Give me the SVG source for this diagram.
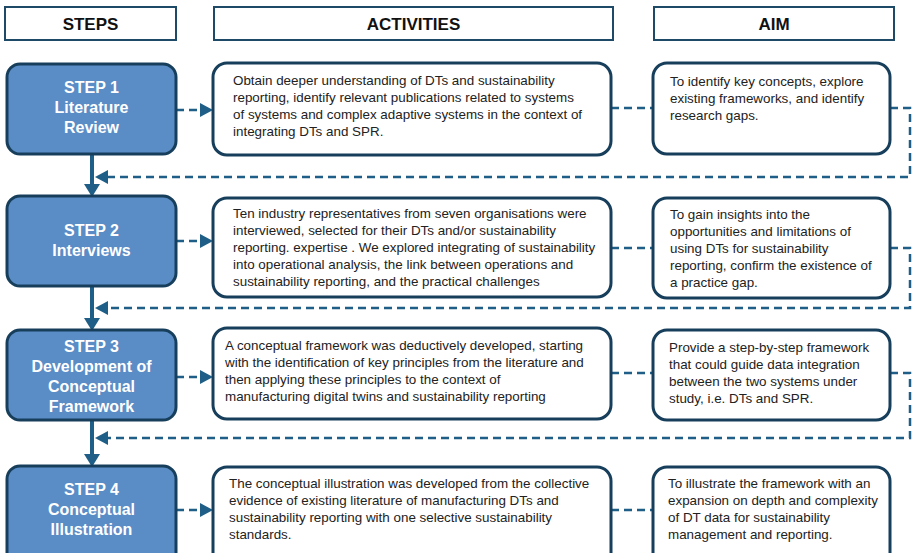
<svg xmlns="http://www.w3.org/2000/svg" width="912" height="553" viewBox="0 0 912 553">
<defs>
<style>
.hdr{fill:#fff;stroke:#1E4A68;stroke-width:2}
.htxt{font-family:"Liberation Sans",Arial,sans-serif;font-weight:bold;font-size:17px;fill:#111;text-anchor:middle}
.step{fill:#5A8CC6;stroke:#173F5C;stroke-width:3}
.stxt{font-family:"Liberation Sans",Arial,sans-serif;font-weight:bold;font-size:16px;fill:#fff;text-anchor:middle}
.box{fill:#fff;stroke:#173F5C;stroke-width:3}
.btxt{font-family:"Liberation Sans",Arial,sans-serif;font-size:13.4px;fill:#222}
.dash{fill:none;stroke:#1F5E86;stroke-width:2.5;stroke-dasharray:8 5}
.solid{fill:none;stroke:#1F5E86;stroke-width:4}
</style>
<marker id="ah" markerUnits="userSpaceOnUse" markerWidth="13" markerHeight="14" refX="0" refY="7" orient="auto"><path d="M0,0 L13,7 L0,14 z" fill="#1F5E86"/></marker>
<marker id="ahv" markerUnits="userSpaceOnUse" markerWidth="13" markerHeight="16" refX="0" refY="8" orient="auto"><path d="M0,0 L13,8 L0,16 z" fill="#1F5E86"/></marker>
</defs>
<rect width="912" height="553" fill="#fff"/>

<g id="header-steps"><rect class="hdr" x="5" y="7" width="171" height="33"/><text class="htxt" x="90.5" y="29.5">STEPS</text></g>
<g id="header-activities"><rect class="hdr" x="214" y="7" width="399" height="33"/><text class="htxt" x="413.5" y="29.5">ACTIVITIES</text></g>
<g id="header-aim"><rect class="hdr" x="654" y="7" width="240" height="33"/><text class="htxt" x="774" y="29.5">AIM</text></g>

<g id="connectors">
<path class="solid" d="M92,154 V184" marker-end="url(#ahv)"/>
<path class="solid" d="M92,286 V318" marker-end="url(#ahv)"/>
<path class="solid" d="M92,420 V454" marker-end="url(#ahv)"/>
<path class="dash" d="M176,110 H200" marker-end="url(#ah)"/>
<path class="dash" d="M176,241 H200" marker-end="url(#ah)"/>
<path class="dash" d="M176,377 H200" marker-end="url(#ah)"/>
<path class="dash" d="M176,510 H200" marker-end="url(#ah)"/>
<path class="dash" d="M611,108 H653"/>
<path class="dash" d="M611,248 H653"/>
<path class="dash" d="M611,373 H653"/>
<path class="dash" d="M611,510 H653"/>
<path class="dash" d="M890,108 H910 V177 H108" marker-end="url(#ah)"/>
<path class="dash" d="M890,248 H910 V308 H108" marker-end="url(#ah)"/>
<path class="dash" d="M890,373 H910 V438 H108" marker-end="url(#ah)"/>
</g>

<g id="step1"><rect class="step" x="7" y="64" width="169" height="90" rx="13"/>
<text class="stxt"><tspan x="91.5" y="93">STEP 1</tspan><tspan x="91.5" y="113">Literature</tspan><tspan x="91.5" y="133">Review</tspan></text></g>
<g id="step2"><rect class="step" x="7" y="196" width="169" height="90" rx="13"/>
<text class="stxt"><tspan x="91.5" y="236">STEP 2</tspan><tspan x="91.5" y="256">Interviews</tspan></text></g>
<g id="step3"><rect class="step" x="7" y="330" width="169" height="90" rx="13"/>
<text class="stxt"><tspan x="91.5" y="352">STEP 3</tspan><tspan x="91.5" y="372">Development of</tspan><tspan x="91.5" y="392">Conceptual</tspan><tspan x="91.5" y="412">Framework</tspan></text></g>
<g id="step4"><rect class="step" x="7" y="466" width="169" height="100" rx="13"/>
<text class="stxt"><tspan x="91.5" y="495">STEP 4</tspan><tspan x="91.5" y="515">Conceptual</tspan><tspan x="91.5" y="535">Illustration</tspan></text></g>

<g id="activity1"><rect class="box" x="213" y="63" width="398" height="92" rx="14"/>
<text class="btxt"><tspan x="233" y="85">Obtain deeper understanding of DTs and sustainability</tspan><tspan x="233" y="102">reporting, identify relevant  publications related to systems</tspan><tspan x="233" y="119">of systems and complex adaptive systems in the context of</tspan><tspan x="233" y="136">integrating DTs and SPR.</tspan></text></g>
<g id="activity2"><rect class="box" x="213" y="198" width="398" height="99" rx="14"/>
<text class="btxt"><tspan x="233" y="218">Ten industry representatives from seven organisations were</tspan><tspan x="233" y="235">interviewed, selected for their DTs and/or sustainability</tspan><tspan x="233" y="252">reporting. expertise . We explored integrating of sustainability</tspan><tspan x="233" y="269">into operational analysis, the link between operations and</tspan><tspan x="233" y="286">sustainability reporting, and the practical challenges</tspan></text></g>
<g id="activity3"><rect class="box" x="213" y="328" width="398" height="91" rx="14"/>
<text class="btxt"><tspan x="225" y="350">A conceptual framework was deductively developed, starting</tspan><tspan x="225" y="367">with the identification of key principles from the literature and</tspan><tspan x="225" y="384">then applying these principles to the context of</tspan><tspan x="225" y="401">manufacturing digital twins and sustainability reporting</tspan></text></g>
<g id="activity4"><rect class="box" x="213" y="467" width="398" height="100" rx="14"/>
<text class="btxt"><tspan x="229" y="488">The conceptual illustration was developed from the collective</tspan><tspan x="229" y="505">evidence of existing literature of manufacturing DTs and</tspan><tspan x="229" y="522">sustainability reporting with one selective sustainability</tspan><tspan x="229" y="539">standards.</tspan></text></g>

<g id="aim1"><rect class="box" x="653" y="63" width="237" height="91" rx="14"/>
<text class="btxt"><tspan x="670" y="86">To identify key concepts, explore</tspan><tspan x="670" y="103">existing frameworks, and identify</tspan><tspan x="670" y="120">research gaps.</tspan></text></g>
<g id="aim2"><rect class="box" x="653" y="198" width="237" height="100" rx="14"/>
<text class="btxt"><tspan x="670" y="219">To gain insights into the</tspan><tspan x="670" y="236">opportunities and limitations of</tspan><tspan x="670" y="253">using DTs for sustainability</tspan><tspan x="670" y="270">reporting, confirm the existence of</tspan><tspan x="670" y="287">a practice gap.</tspan></text></g>
<g id="aim3"><rect class="box" x="653" y="330" width="237" height="90" rx="14"/>
<text class="btxt"><tspan x="669" y="352">Provide a step-by-step framework</tspan><tspan x="669" y="369">that could guide data integration</tspan><tspan x="669" y="386">between the two systems under</tspan><tspan x="669" y="403">study, i.e. DTs and SPR.</tspan></text></g>
<g id="aim4"><rect class="box" x="653" y="467" width="237" height="100" rx="14"/>
<text class="btxt"><tspan x="668" y="488">To illustrate the framework with an</tspan><tspan x="668" y="505">expansion on depth and complexity</tspan><tspan x="668" y="522">of DT data for sustainability</tspan><tspan x="668" y="539">management and reporting.</tspan></text></g>
</svg>
